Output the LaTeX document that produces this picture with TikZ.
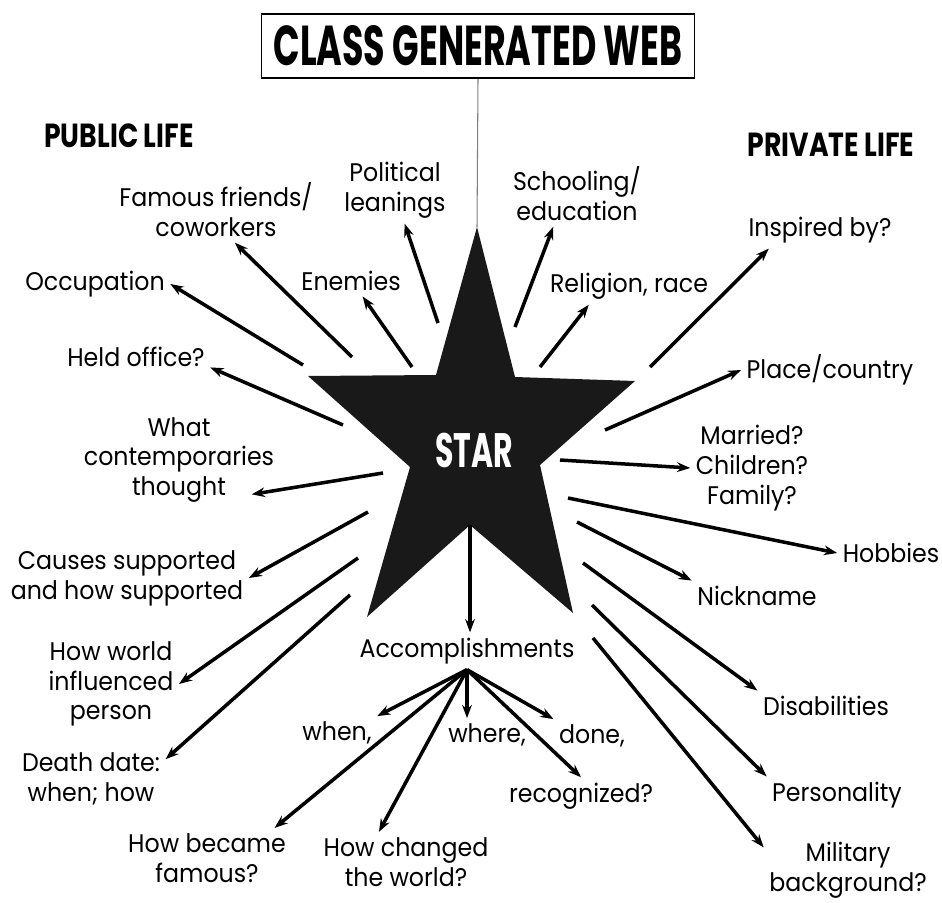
\documentclass[tikz,border=0pt]{standalone}
\usepackage{fontspec}
\setmainfont{Poppins}[FakeStretch=0.93]
\newfontfamily\headfont{Poppins}[FakeStretch=0.62]
\newfontfamily\sidefont{Poppins}[FakeStretch=0.8]
\usetikzlibrary{arrows.meta}

\begin{document}
\begin{tikzpicture}[x=0.02cm, y=-0.02cm,
  lbl/.style={align=center, inner sep=3pt, font=\fontsize{14.5}{17}\selectfont},
  head/.style={font=\sidefont\bfseries\fontsize{19}{22}\selectfont},
  arr/.style={line width=2pt, -{Stealth[length=7.5pt, width=5.5pt]}}]
  \useasboundingbox (0,0) rectangle (942,902);
  % title and headings
  \node[draw, line width=0.9pt, minimum width=8.66cm, minimum height=1.28cm,
    font=\headfont\bfseries\fontsize{32}{36}\selectfont] (title) at (478,46) {CLASS GENERATED WEB};
  \node[head] (pub) at (119,136) {PUBLIC LIFE};
  \node[head] (priv) at (831,145) {PRIVATE LIFE};
  % the star
  \fill[black!90] (477,227) -- (515,377) -- (635,381) -- (540,465) -- (573,613) -- (470,525)
    -- (367,617) -- (410,467) -- (308,376) -- (436,375) -- cycle;
  \coordinate (tip) at (477,227);
  \draw[gray, line width=0.6pt] (title.south) -- (tip);
  \node[text=white, font=\headfont\bfseries\fontsize{27.5}{30}\selectfont] (star) at (474,450) {STAR};
  % public life
  \node[lbl] (fam) at (216,210) {Famous friends/\\coworkers};
  \node[lbl] (pol) at (395,190) {Political\\leanings};
  \node[lbl] (occ) at (95,284) {Occupation};
  \node[lbl] (ene) at (351,281) {Enemies};
  \node[lbl] (held) at (136,357) {Held office?};
  \node[lbl] (cont) at (179,460) {What\\contemporaries\\thought};
  \node[lbl] (cause) at (127,578) {Causes supported\\and how supported};
  \node[lbl] (hw) at (111,684) {How world\\influenced\\person};
  \node[lbl] (death) at (91,779) {Death date:\\when; how};
  \node[lbl] (hbf) at (207,858) {How became\\famous?};
  \node[lbl] (hcw) at (406,862) {How changed\\the world?};
  % accomplishments
  \node[lbl] (acc) at (467,651) {Accomplishments};
  \node[lbl] (when) at (337,733) {when,};
  \node[lbl] (where) at (487,735) {where,};
  \node[lbl] (done) at (592,736) {done,};
  \node[lbl] (rec) at (581,796) {recognized?};
  % private life
  \node[lbl] (sch) at (577,194) {Schooling/\\education};
  \node[lbl] (rel) at (629,286) {Religion, race};
  \node[lbl] (insp) at (820,230) {Inspired by?};
  \node[lbl] (place) at (830,370) {Place/country};
  \node[lbl] (mar) at (752,468) {Married?\\Children?\\Family?};
  \node[lbl] (hob) at (891,553) {Hobbies};
  \node[lbl] (nick) at (757,596) {Nickname};
  \node[lbl] (dis) at (826,706) {Disabilities};
  \node[lbl] (pers) at (837,795) {Personality};
  \node[lbl] (mil) at (848,870) {Military\\background?};
  % arrow tails round the star
  \coordinate (t1) at (352,357);
  \coordinate (t2) at (438,323);
  \coordinate (t3) at (303,365);
  \coordinate (t4) at (412,367);
  \coordinate (t5) at (343,425);
  \coordinate (t6) at (383,473);
  \coordinate (t7) at (368,512);
  \coordinate (t8) at (358,558);
  \coordinate (t9) at (350,595);
  \coordinate (t10) at (515,327);
  \coordinate (t11) at (540,367);
  \coordinate (t12) at (650,367);
  \coordinate (t13) at (605,430);
  \coordinate (t14) at (560,460);
  \coordinate (t15) at (568,498);
  \coordinate (t16) at (577,522);
  \coordinate (t17) at (583,563);
  \coordinate (t18) at (592,605);
  \coordinate (t19) at (593,638);
  \coordinate (t20) at (470,525);
  \foreach \a/\b in {t1/fam.-60, t2/pol.-74, t3/occ.east, t4/ene.-53, t5/held.-8,
      t7/cause.east, t8/hw.east, t10/sch.-126, t11/rel.-155, t12/insp.-160,
      t13/place.west, t14/mar.west, t15/hob.west, t16/nick.north west,
      t17/dis.north west, t18/pers.north west, t19/mil.165}
    \draw[arr] (\a) -- (\b);
  \draw[arr] (t6) -- ([shift={(-28,-14)}]cont.south east);
  \draw[arr] (t9) -- ([shift={(0,12)}]death.north east);
  \draw[arr] (t20) -- (t20 |- acc.north);
  \foreach \b in {when.north east, hbf.24, hcw.132, done.north west, rec.north}
    \draw[arr] (acc.south) -- (\b);
  \draw[arr] (acc.south) -- (acc.south |- where.north);
\end{tikzpicture}
\end{document}
